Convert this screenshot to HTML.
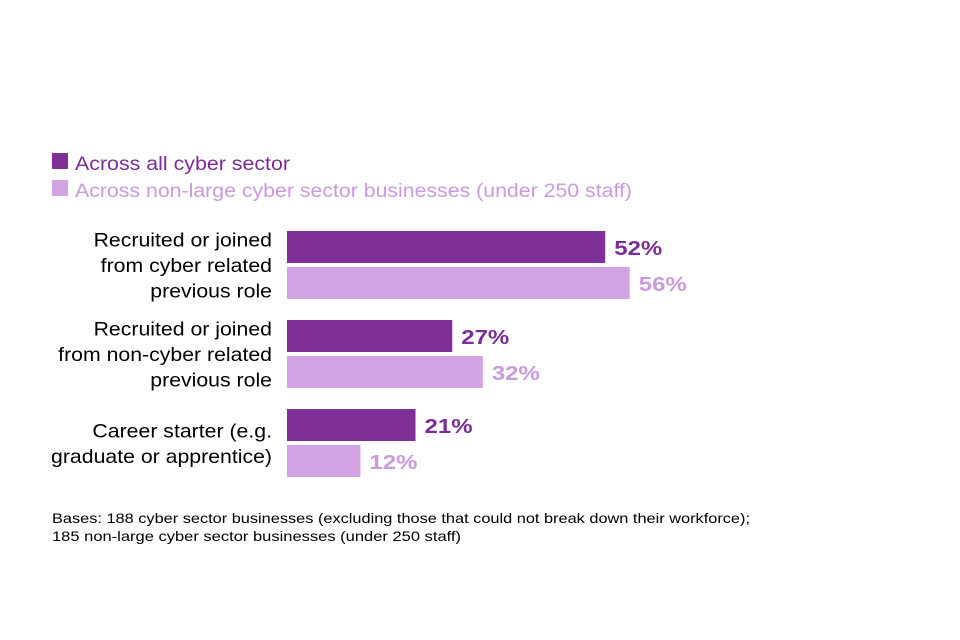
<!DOCTYPE html>
<html><head><meta charset="utf-8"><style>
body{margin:0;background:#fff;font-family:"Liberation Sans",sans-serif}
svg{display:block}
</style></head><body>
<svg width="960" height="640">
<g>
<rect x="52" y="153" width="16" height="16" fill="#7f3096"/>
<text x="75" y="170" font-size="19" fill="#7a2d96" textLength="215" lengthAdjust="spacingAndGlyphs">Across all cyber sector</text>
<rect x="52" y="180" width="16" height="16" fill="#d3a3e3"/>
<text x="75" y="197" font-size="19" fill="#c99bdc" textLength="557" lengthAdjust="spacingAndGlyphs">Across non-large cyber sector businesses (under 250 staff)</text>
</g>
<g id="bars"></g>
<text x="52" y="523" font-size="14" fill="#000" textLength="698" lengthAdjust="spacingAndGlyphs">Bases: 188 cyber sector businesses (excluding those that could not break down their workforce);</text>
<text x="52" y="541" font-size="14" fill="#000" textLength="409" lengthAdjust="spacingAndGlyphs">185 non-large cyber sector businesses (under 250 staff)</text>
</svg>
<script>
const categories=[["Recruited or joined","from cyber related","previous role"],["Recruited or joined","from non-cyber related","previous role"],["Career starter (e.g.","graduate or apprentice)"]];
const allSector=[52,27,21];
const nonLarge=[56,32,12];
const ns="http://www.w3.org/2000/svg";
const g=document.getElementById("bars");
const x0=287,scale=6.12,top0=231,pitch=89,bh=32;
function xs(v){return v*scale;}
function mk(t,a){const e=document.createElementNS(ns,t);for(const k in a)e.setAttribute(k,a[k]);g.appendChild(e);return e;}
function stretch(t,f){const w=t.getComputedTextLength();t.setAttribute("textLength",w*f);t.setAttribute("lengthAdjust","spacingAndGlyphs");}
categories.forEach((lines,i)=>{
  const y=top0+i*pitch;
  [[allSector,"#7f3096","#7a2d96",0],[nonLarge,"#d3a3e3","#c99bdc",36]].forEach(([arr,fill,tc,off],s)=>{
    const r=mk("rect",{x:x0,y:y+off,width:xs(arr[i]),height:bh,fill:fill});
    
    
    const t=mk("text",{x:x0+xs(arr[i])+9,y:y+off+24,"font-size":20,"font-weight":"900",fill:tc});
    t.textContent=arr[i]+"%";
    
    
    stretch(t,1.2);
  });
  const n=lines.length;
  const mid=y+34;
  lines.forEach((ln,j)=>{
    const t=mk("text",{x:272,y:mid+(j-(n-1)/2)*25.5+7,"font-size":19.5,"text-anchor":"end",fill:"#000"});
    t.textContent=ln;
    
    
    stretch(t,1.09);
  });
});
</script>
</body></html>
